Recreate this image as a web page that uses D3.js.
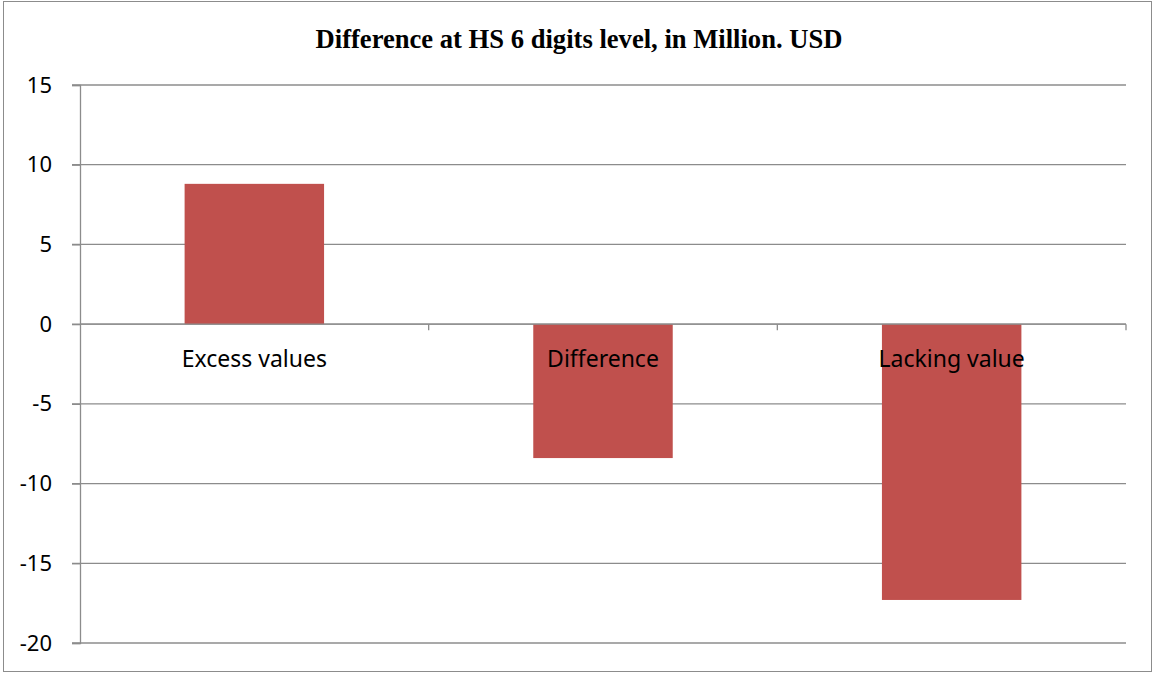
<!DOCTYPE html>
<html>
<head>
<meta charset="utf-8">
<script src="https://cdn.jsdelivr.net/npm/d3@7"></script>
<style>
  body { margin: 0; background: #fff; }
  svg { display: block; }
  .tick text { font-family: "Noto Sans", sans-serif; font-size: 22px; fill: #000; }
</style>
</head>
<body>
<div id="chart"></div>
<script>
//Data
const categories = ["Excess values", "Difference", "Lacking value"];
const values = [8.8, -8.4, -17.3];
const yTicks = [15, 10, 5, 0, -5, -10, -15, -20];
const title = "Difference at HS 6 digits level, in Million. USD";

//Layout
let W = 1154, H = 673,
    margin = {top: 85, left: 80, right: 28, bottom: 30},
    width = W - margin.left - margin.right,
    height = 643 - margin.top;

let svg = d3.select("#chart").append("svg")
  .attr("width", W)
  .attr("height", H);

//Outer frame
svg.append("rect")
  .attr("x", 3.5).attr("y", 1.5)
  .attr("width", W - 6).attr("height", H - 3)
  .attr("fill", "none").attr("stroke", "#8c8c8c").attr("stroke-width", 1);

svg.append("text")
  .attr("x", 579).attr("y", 48)
  .attr("text-anchor", "middle")
  .style("font-family", "'Liberation Serif', serif")
  .style("font-weight", "bold")
  .style("font-size", "26.6px")
  .text(title);

let g = svg.append("g").attr("transform", "translate(" + margin.left + "," + margin.top + ")");

let x = d3.scaleBand().domain(categories).range([0, width]).paddingInner(0.6).paddingOuter(0.3);
let xBand = d3.scaleBand().domain(categories).range([0, width]);
let y = d3.scaleLinear().domain([-20, 15]).range([height, 0]);

//Gridlines
g.selectAll(".grid")
  .data(yTicks)
  .enter().append("line")
    .attr("class", "grid")
    .attr("x1", -8).attr("x2", width)
    .attr("y1", d => y(d)).attr("y2", d => y(d))
    .attr("stroke", "#8c8c8c").attr("stroke-width", 1.3);

//Y axis (plain hyphen for negatives, like the original)
let yAxis = g.append("g")
  .call(d3.axisLeft(y).tickValues(yTicks).tickSize(8).tickPadding(20).tickFormat(d => String(d)));
yAxis.select(".domain").attr("stroke", "#8c8c8c").attr("stroke-width", 1.3);
yAxis.selectAll(".tick line").attr("stroke", "#8c8c8c").attr("stroke-width", 1.3);

//Bars
g.selectAll(".bar")
  .data(values)
  .enter().append("rect")
    .attr("class", "bar")
    .attr("x", (d, i) => x(categories[i]))
    .attr("width", x.bandwidth())
    .attr("y", d => y(Math.max(0, d)))
    .attr("height", d => Math.abs(y(d) - y(0)))
    .attr("fill", "#c0504d");

//Zero axis line with category boundary ticks
g.append("line")
  .attr("x1", 0).attr("x2", width)
  .attr("y1", y(0)).attr("y2", y(0))
  .attr("stroke", "#8c8c8c").attr("stroke-width", 1.3);
g.selectAll(".ctick")
  .data(categories)
  .enter().append("line")
    .attr("class", "ctick")
    .attr("x1", d => xBand(d) + xBand.bandwidth())
    .attr("x2", d => xBand(d) + xBand.bandwidth())
    .attr("y1", y(0)).attr("y2", y(0) + 6)
    .attr("stroke", "#8c8c8c").attr("stroke-width", 1.3);

//Category labels
g.selectAll(".clabel")
  .data(categories)
  .enter().append("text")
    .attr("class", "clabel")
    .attr("x", d => xBand(d) + xBand.bandwidth() / 2)
    .attr("y", y(0) + 43)
    .attr("text-anchor", "middle")
    .style("font-family", "'Noto Sans', sans-serif")
    .style("font-size", "23px")
    .text(d => d);
</script>
</body>
</html>
